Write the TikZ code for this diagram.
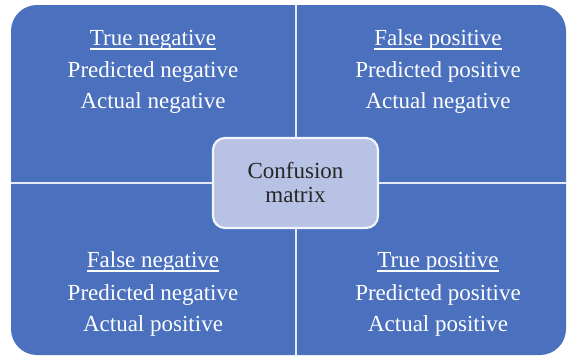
\documentclass[tikz,border=0pt]{standalone}
\usepackage{fontspec}
\setmainfont{Liberation Serif}
\definecolor{quadblue}{RGB}{74,112,190}
\definecolor{centerfill}{RGB}{184,194,228}
\newcommand\myuline[1]{\setbox0\hbox{#1}\rlap{\vrule height -3.2pt depth 4.6pt width \wd0}\box0}
\tikzset{
  qtext/.style={text=white, font=\fontsize{23}{26}\selectfont, anchor=base, inner sep=0pt},
  ctext/.style={text=black!85, font=\fontsize{23}{26}\selectfont, anchor=base, inner sep=0pt}
}
\begin{document}
\begin{tikzpicture}[x=1pt,y=-1pt]
\useasboundingbox (0,0) rectangle (570,360);
\fill[white] (0,0) rectangle (570,360);
% outer blue shape
\fill[quadblue, rounded corners=26pt] (11,5) rectangle (566,355);
% separators
\draw[white!85!quadblue, line width=2.6pt] (296,5) -- (296,355);
\draw[white!85!quadblue, line width=2.6pt] (11,183) -- (566,183);
% center box
\node[draw=white!92!quadblue, line width=2.2pt, fill=centerfill, rounded corners=12pt,
      minimum width=165pt, minimum height=90pt, inner sep=0pt] (cm) at (295.5,183) {};
\node[ctext] (c1) at (295.5,178) {Confusion};
\node[ctext] (c2) at (295.5,202) {matrix};
% top-left
\node[qtext] (tl1) at (153,45) {\myuline{True negative}};
\node[qtext] (tl2) at (153,77) {Predicted negative};
\node[qtext] (tl3) at (153,108) {Actual negative};
% top-right
\node[qtext] (tr1) at (438,45) {\myuline{False positive}};
\node[qtext] (tr2) at (438,77) {Predicted positive};
\node[qtext] (tr3) at (438,108) {Actual negative};
% bottom-left
\node[qtext] (bl1) at (153,267) {\myuline{False negative}};
\node[qtext] (bl2) at (153,300) {Predicted negative};
\node[qtext] (bl3) at (153,331) {Actual positive};
% bottom-right
\node[qtext] (br1) at (438,267) {\myuline{True positive}};
\node[qtext] (br2) at (438,300) {Predicted positive};
\node[qtext] (br3) at (438,331) {Actual positive};
\end{tikzpicture}
\end{document}
